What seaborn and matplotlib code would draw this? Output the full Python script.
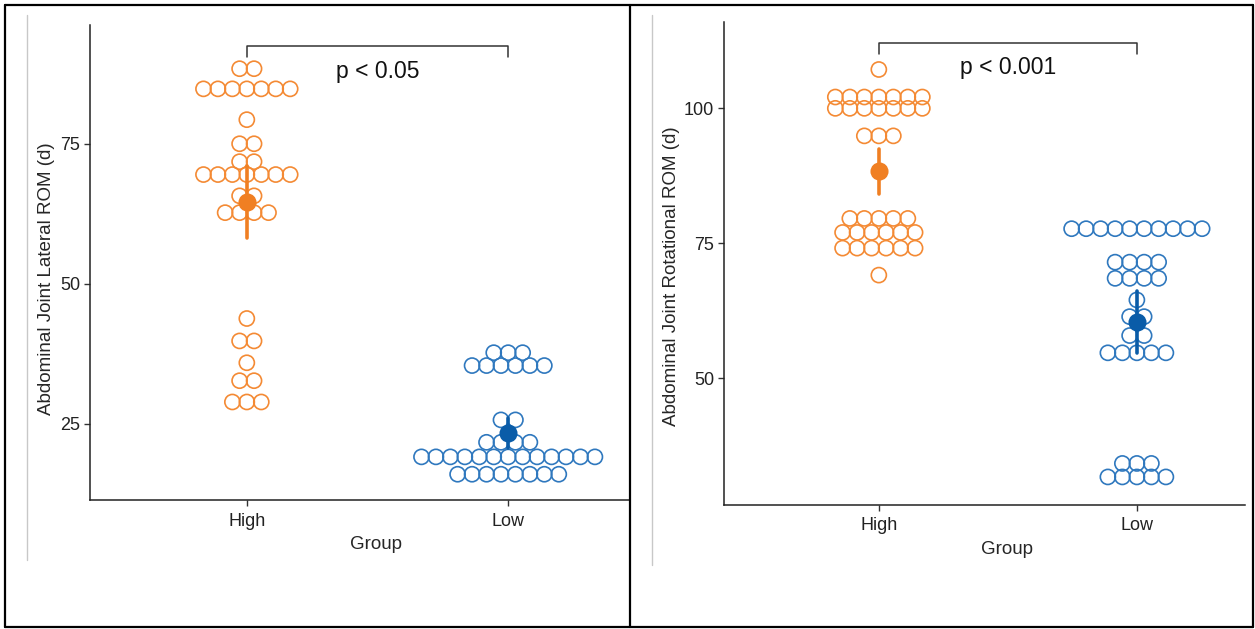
import numpy as np
import pandas as pd
import matplotlib
matplotlib.use("Agg")
import matplotlib.pyplot as plt
import seaborn as sns
from matplotlib.lines import Line2D

groups = ["High", "Low"]

# lateral ROM: bin value and number of stacked dots in that bin
lat_high_vals = [88.4, 84.8, 79.3, 75.0, 71.8, 69.5, 65.7, 62.7, 43.8, 39.8, 35.9, 32.7, 28.9]
lat_high_counts = [2, 7, 1, 2, 2, 7, 2, 4, 1, 2, 1, 2, 3]
lat_low_vals = [37.7, 35.4, 25.7, 21.7, 19.1, 16.0]
lat_low_counts = [3, 6, 2, 4, 13, 8]

# rotational ROM
rot_high_vals = [107.2, 102.1, 100.0, 94.9, 79.6, 77.0, 74.1, 69.1]
rot_high_counts = [1, 7, 7, 3, 5, 6, 6, 1]
rot_low_vals = [77.7, 71.5, 68.5, 64.5, 61.4, 57.9, 54.7, 34.2, 31.7]
rot_low_counts = [10, 4, 4, 1, 2, 2, 5, 3, 5]

p_labels = ["p < 0.05", "p < 0.001"]

ring_cols = ["#F48A34", "#2F78BE"]
mean_cols = ["#F07F22", "#0A5CA8"]


def stack(vals, counts, group, pos, width):
    # centre each bin's dots around the group position, like a dotplot
    rows = []
    for v, n in zip(vals, counts):
        for i in range(n):
            rows.append((group, v, pos + (i - (n - 1) / 2) * width))
    return pd.DataFrame(rows, columns=["Group", "ROM", "xpos"])


def panel(ax, df, ylabel, ylim, xlim, yticks, ptxt, by, drop, ty, label_xy, xlab_x):
    for g, c in zip(groups, ring_cols):
        d = df[df["Group"] == g]
        sns.scatterplot(x=d["xpos"], y=d["ROM"], ax=ax, s=118, marker="o",
                        facecolor="none", edgecolor=c, linewidth=1.2, zorder=2)
    sns.pointplot(data=df, x="Group", y="ROM", hue="Group", order=groups,
                  hue_order=groups, palette=mean_cols, errorbar=("se", 2),
                  markersize=11, linestyle="none", err_kws={"linewidth": 2.6},
                  legend=False, ax=ax, zorder=4)
    ax.plot([0, 0, 1, 1], [by - drop, by, by, by - drop], color="#333333", lw=1.1,
            clip_on=False)
    ax.text(0.5, ty, ptxt, ha="center", va="center", fontsize=16.5, color="#111111")
    ax.set_xlim(xlim)
    ax.set_ylim(ylim)
    ax.set_xticks([0, 1])
    ax.set_xticklabels(groups)
    ax.set_yticks(yticks)
    ax.set_xlabel("Group", fontsize=13.5, labelpad=4.5)
    ax.xaxis.label.set_x(xlab_x)  # original panel runs past the crop
    ax.set_ylabel(ylabel, fontsize=13.5)
    ax.yaxis.set_label_coords(*label_xy)
    ax.tick_params(labelsize=13, length=4, width=1, color="#333333", labelcolor="#222222",
                   bottom=True, left=True, pad=3)
    ax.tick_params(axis="x", pad=5)
    for s in ["top", "right"]:
        ax.spines[s].set_visible(False)
    for s in ["left", "bottom"]:
        ax.spines[s].set_color("#222222")
        ax.spines[s].set_linewidth(1.1)


sns.set_style("ticks")
plt.rcParams["font.family"] = ["Liberation Sans", "DejaVu Sans"]

W, H = 1255, 629
fig = plt.figure(figsize=(W / 100, H / 100), dpi=100)

lat = pd.concat([stack(lat_high_vals, lat_high_counts, "High", 0, 0.0553),
                 stack(lat_low_vals, lat_low_counts, "Low", 1, 0.0553)])
rot = pd.concat([stack(rot_high_vals, rot_high_counts, "High", 0, 0.0562),
                 stack(rot_low_vals, rot_low_counts, "Low", 1, 0.0562)])

ax1 = fig.add_axes([90 / W, 1 - 500 / H, 540 / W, 475 / H])
panel(ax1, lat, "Abdominal Joint Lateral ROM (d)", (11.4, 96.2), (-0.6, 1.466),
      [25, 50, 75], p_labels[0], 92.4, 1.9, 87.9, (-0.065, 0.465), 0.53)

ax2 = fig.add_axes([724 / W, 1 - 505 / H, 521 / W, 483 / H])
panel(ax2, rot, "Abdominal Joint Rotational ROM (d)", (26.5, 116.0), (-0.6, 1.419),
      [50, 75, 100], p_labels[1], 112.2, 2.1, 107.5, (-0.084, 0.474), 0.543)

# thin grey guide lines and the black panel frames
for x, y1 in [(27, 560), (652, 565)]:
    fig.add_artist(Line2D([x / W, x / W], [1 - 15 / H, 1 - y1 / H], color="#C8C8C8", lw=1))
frame = dict(color="black", lw=1.6)
fig.add_artist(Line2D([5 / W, 1253 / W], [1 - 5 / H, 1 - 5 / H], **frame))
fig.add_artist(Line2D([5 / W, 1253 / W], [1 - 627 / H, 1 - 627 / H], **frame))
for x in [5, 630, 1253]:
    fig.add_artist(Line2D([x / W, x / W], [1 - 5 / H, 1 - 627 / H], **frame))

fig.savefig("out.png", dpi=100)
